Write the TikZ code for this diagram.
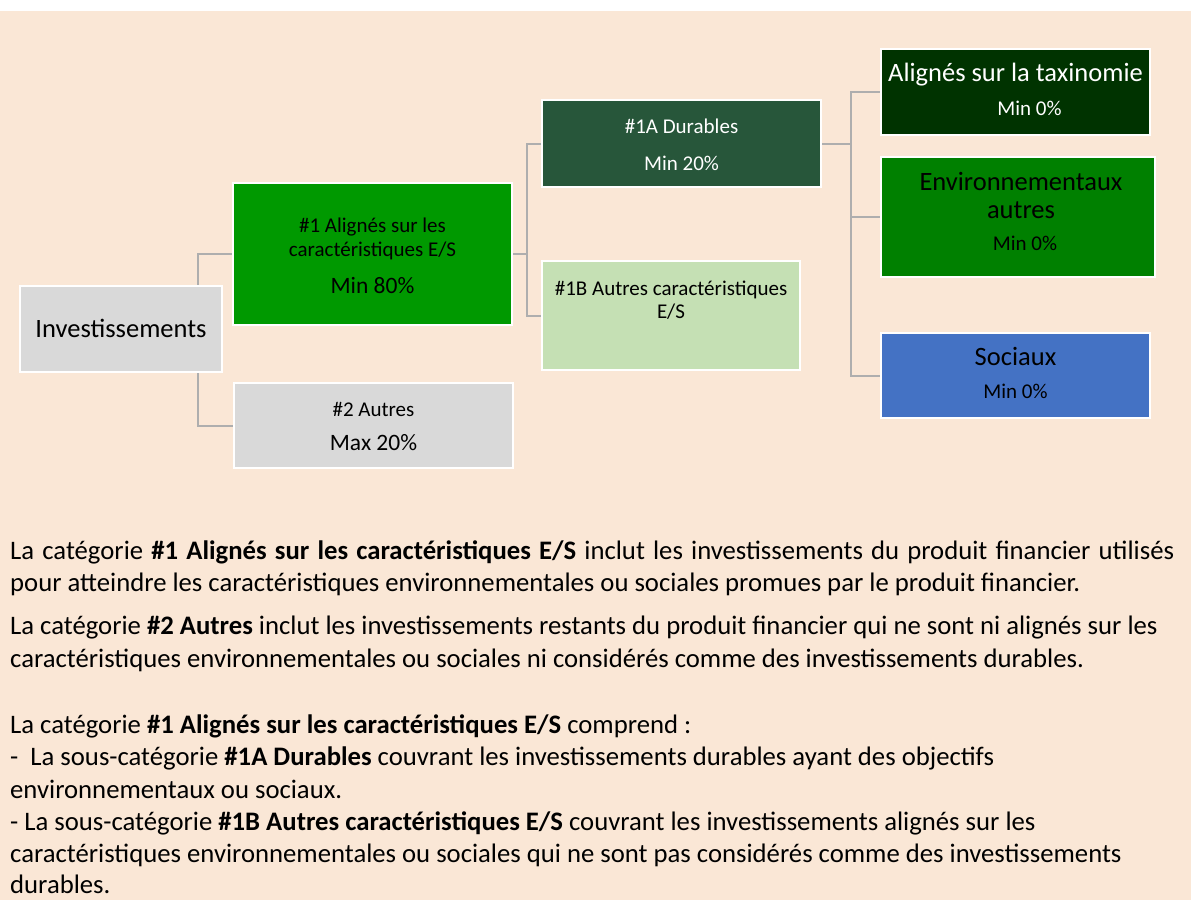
\documentclass[tikz,border=0pt]{standalone}
\usepackage{fontspec}
\setmainfont{Carlito}
\usetikzlibrary{backgrounds}
\definecolor{peach}{HTML}{FAE7D6}
\definecolor{boxgray}{HTML}{D9D9D9}
\definecolor{greenA}{HTML}{009900}
\definecolor{greenDark}{HTML}{27563A}
\definecolor{greenLight}{HTML}{C5E0B4}
\definecolor{greenTax}{HTML}{003300}
\definecolor{greenEnv}{HTML}{008000}
\definecolor{blueSoc}{HTML}{4472C4}
\definecolor{linegray}{HTML}{AEAEAE}
\newcommand{\bigsz}{\fontsize{26.5}{30}\selectfont}
\newcommand{\midsz}{\fontsize{23.5}{28}\selectfont}
\setlength{\lineskiplimit}{-100pt}
\begin{document}
\begin{tikzpicture}[x=1pt,y=-1pt,
  box/.style={rectangle, draw=white, line width=2pt, inner sep=0pt},
  txt/.style={anchor=north, inner sep=0pt, align=center,
    font=\fontsize{21}{24}\selectfont},
  conn/.style={draw=linegray, line width=2pt},
  para/.style={anchor=base west, inner sep=0pt, font=\fontsize{26.7}{30}\selectfont}]
\useasboundingbox (0,0) rectangle (1191,900);

% boxes
\node[box, fill=boxgray,   minimum width=202pt, minimum height=86pt]  (inv) at (121,329) {};
\node[box, fill=greenA,    minimum width=279pt, minimum height=142pt] (g1)  at (372.5,254) {};
\node[box, fill=boxgray,   minimum width=279pt, minimum height=85pt]  (g2)  at (373.5,425.5) {};
\node[box, fill=greenDark, minimum width=279pt, minimum height=87pt]  (g1a) at (681.5,143.5) {};
\node[box, fill=greenLight,minimum width=258pt, minimum height=109pt] (g1b) at (671,315.5) {};
\node[box, fill=greenTax,  minimum width=269pt, minimum height=86pt]  (tax) at (1015.5,92) {};
\node[box, fill=greenEnv,  minimum width=274pt, minimum height=120pt] (env) at (1018,217) {};
\node[box, fill=blueSoc,   minimum width=269pt, minimum height=85pt]  (soc) at (1015.5,375.5) {};

% box texts
\node[txt] (invt) at (121,316) {\bigsz\strut Investissements};
\node[txt] (g1t) at (372.5,215.2) {\strut\#1 Alignés sur les\\caractéristiques E/S\\[13pt]{\midsz Min 80\%}};
\node[txt] (g2t) at (373.5,399.2) {\strut\#2 Autres\\[10pt]{\midsz Max 20\%}};
\node[txt, text=white] (g1at) at (681.5,116.7) {\strut\#1A Durables\\[13pt]Min 20\%};
\node[txt] (g1bt) at (671,278.2) {\strut\#1B Autres caractéristiques\\[-1pt]E/S};
\node[txt, text=white] (taxt) at (1015.5,60) {{\bigsz\strut Alignés sur la taxinomie}\\[10pt]\hspace*{28pt}Min 0\%};
\node[txt] (envt) at (1021,169) {{\bigsz\strut Environnementaux}\\[4pt]{\bigsz autres}\\[8pt]\hspace*{8pt}Min 0\%};
\node[txt] (soct) at (1015.5,344.5) {{\bigsz\strut Sociaux}\\[9pt]Min 0\%};

\coordinate (j0) at (198,0);
\coordinate (j1) at (527,0);
\coordinate (j2) at (851,0);

\begin{pgfonlayer}{background}
  \fill[white] (0,0) rectangle (1191,900);
  \fill[peach] (0,11) rectangle (1191,900);
  \draw[conn] (inv.north -| j0) |- (g1.west);
  \draw[conn] (inv.south -| j0) |- (g2.west);
  \draw[conn] (g1.east) -- (g1.east -| j1) |- (g1a.west);
  \draw[conn] (g1.east -| j1) |- (g1b.west);
  \draw[conn] (g1a.east) -- (g1a.east -| j2) |- (tax.west);
  \draw[conn] (g1a.east -| j2) |- (env.west);
  \draw[conn] (g1a.east -| j2) |- (soc.west);
\end{pgfonlayer}

% explanatory text
\node[para] (t1) at (10,559) {\makebox[1164pt][s]{La catégorie \textbf{\#1 Alignés sur les caractéristiques E/S} inclut les investissements du produit financier utilisés}};
\node[para] (t2) at (10,591) {pour atteindre les caractéristiques environnementales ou sociales promues par le produit financier.};
\node[para] (t3) at (10,634) {La catégorie \textbf{\#2 Autres} inclut les investissements restants du produit financier qui ne sont ni alignés sur les};
\node[para] (t4) at (10,667) {caractéristiques environnementales ou sociales ni considérés comme des investissements durables.};
\node[para] (t5) at (10,733) {La catégorie \textbf{\#1 Alignés sur les caractéristiques E/S} comprend :};
\node[para] (t6) at (10,765) {-\ \ La sous-catégorie \textbf{\#1A Durables} couvrant les investissements durables ayant des objectifs};
\node[para] (t7) at (10,798) {environnementaux ou sociaux.};
\node[para] (t8) at (10,830) {- La sous-catégorie \textbf{\#1B Autres caractéristiques E/S} couvrant les investissements alignés sur les};
\node[para] (t9) at (10,862) {caractéristiques environnementales ou sociales qui ne sont pas considérés comme des investissements};
\node[para] (t10) at (10,893) {durables.};
\end{tikzpicture}
\end{document}
